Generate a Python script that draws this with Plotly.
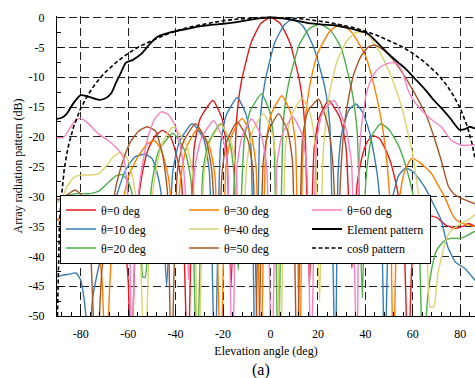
import plotly.graph_objects as go

# ---------------- data ----------------
x_tick_vals = [-80, -60, -40, -20, 0, 20, 40, 60, 80]
x_tick_text = ["-80", "-60", "-40", "-20", "0", "20", "40", "60", "80"]
y_tick_vals = [0, -5, -10, -15, -20, -25, -30, -35, -40, -45, -50]
y_tick_text = ["0", "-5", "-10", "-15", "-20", "-25", "-30", "-35", "-40", "-45", "-50"]

t0_ang = [-90, -86, -83, -80, -76, -72, -68, -65, -62, -60, -58.8,
          -56.5, -54, -51.5, -48.5, -45.5, -42.5, -40, -37.5, -34.85,
          -32.2, -29.6, -24.3, -20.45, -18.5, -16.6,
          -14.4, -12.4, -8.25, -4.1, 0, 4.1, 8.25, 12.4, 14.4, 16.4,
          18.4, 20.45, 24.5, 29.4, 31.85, 34.3,
          36.5, 38.5, 40.5, 43, 46, 50, 53, 56, 58,
          59.5, 61, 63.5, 67, 70, 74, 78, 81, 83.5, 86.2]
t0_db = [-34, -32.5, -30.8, -30, -30.5, -31.5, -32.5, -33, -36, -44, -60,
         -33, -26, -22, -19.8, -18.9, -19.8, -22.5, -27.5, -60,
         -21.9, -16.9, -13.9, -16.9, -21.9, -45,
         -17.7, -11, -4.3, -1.0, 0, -1.0, -4.3, -11, -17.7, -45,
         -21.9, -16.9, -13.9, -16.9, -21.9, -42,
         -28, -23.5, -21, -19.8, -20.3, -23.5, -28, -35, -60,
         -42, -37, -34, -33.2, -33.5, -34.8, -35.3, -35.0, -34.5, -35]

t10_ang = [-90, -88, -85, -82, -80, -79, -77.8, -77,
           -75, -72, -69, -65, -61, -57, -53, -50, -47.5, -45.5, -43.8,
           -41.2, -38.4, -33, -28.2, -25.8, -23.4,
           -21.05, -18.7, -14, -10.2, -8.3, -6.44,
           -4.4, -2.3, 1.8, 5.9, 9.5, 13.8, 18.2, 22.8, 25.0, 27.3,
           28.5, 30, 33, 36, 39, 42, 45, 46.8, 48.2,
           49.5, 51, 54, 57, 60, 65, 69, 72, 74.7, 78, 81.8, 86.2]
t10_db = [-43.5, -43.2, -43.0, -42.8, -44, -46, -50, -60,
          -47, -41, -36, -30, -25.5, -23.3, -22.9, -23.6, -26.5, -31.5, -45,
          -25.8, -20.8, -17.8, -20.3, -25.8, -60,
          -21.4, -16.4, -13.4, -16.4, -21.4, -60,
          -17.2, -10.7, -4.2, -1.2, -0.25, -1.5, -5.0, -11.5, -18.0, -60,
          -26, -19.5, -15.5, -14.5, -16.0, -19.6, -26.3, -35, -60,
          -38, -31, -26.5, -25.2, -25.8, -28.4, -31.5, -34, -38.4, -41, -42, -44]

t20_ang = [-90, -87, -82, -76, -72, -68, -65, -62.5, -60, -58, -56, -54.5, -53.8, -52.8,
           -50.25, -47.2, -41.1, -36.05, -33.5, -31,
           -28.5, -26, -21, -17.3, -15.45, -13.6,
           -11.15, -8.7, -3.8, -0.3, 1.45, 3.2,
           5.4, 7.65, 12.1, 16.5, 21, 25.4, 29.85, 34.3, 36.5, 38.7,
           39.8, 41, 43, 46.5, 50, 54, 57.5, 60.5, 62.5, 64.3,
           66, 68, 70, 73, 76, 80, 83, 86.2]
t20_db = [-31, -30, -29.5, -29.5, -29, -27.5, -26.5, -26.3, -27.5, -30, -34, -40, -43.5, -43.5,
          -28.5, -22.4, -19.4, -22.4, -27.4, -60,
          -25.8, -20.8, -17.8, -20.8, -25.8, -42.3,
          -20.8, -15.8, -12.8, -15.8, -20.8, -60,
          -17.5, -11, -4.6, -1.8, -1.15, -2.2, -5.2, -12.3, -19, -47,
          -30, -24, -19.6, -17.8, -18.8, -21.5, -25.5, -30.5, -36, -60,
          -48, -42, -39, -37.5, -37, -37, -36.5, -35.8]

t30_ang = [-90, -86, -82, -79, -76, -73, -71, -69.5,
           -67, -64, -60, -56, -52, -49, -46, -43, -41.5, -40.3,
           -37.8, -35.3, -30.5, -25.75, -23.4, -21,
           -18.75, -16.5, -12, -8.05, -6.1, -4.1,
           -1.9, 0.35, 4.8, 8.6, 10.5, 12.4,
           13.5, 15, 17, 20, 25, 28.5, 32, 35, 40, 44, 47, 49, 50.5, 51.8,
           53, 54.5, 56.5, 59.5, 63, 67.8, 70.5, 73.4, 76, 78, 81, 86.2]
t30_db = [-34, -32.8, -31.8, -32.5, -34.5, -38.5, -44, -60,
          -40, -34.5, -26.8, -23.4, -21.2, -20.6, -22.2, -26.9, -33, -40,
          -26.6, -21.6, -18.6, -21.6, -26.6, -60,
          -24.9, -19.9, -16.9, -19.9, -24.9, -60,
          -21.1, -16.1, -13.1, -16.1, -21.1, -60,
          -24, -15.7, -10.5, -5.9, -2.3, -1.3, -1.7, -2.9, -6.4, -12.0, -17.9, -24, -32, -60,
          -38, -30, -25.8, -23.6, -24.3, -26.1, -28, -30, -32.5, -33.8, -34.5, -35]

t40_ang = [-90, -88, -86, -83, -80, -76, -72.5, -69, -66, -63, -60.5, -58.5, -56.5, -55, -53,
           -50.5, -48, -45.5, -41, -35.5, -32.75, -30.4,
           -28, -25.65, -20.9, -16.55, -14.4, -12.2,
           -9.9, -7.6, -3, 0.55, 2.3, 4.1,
           6.4, 8.7, 13.3, 17, 18.85, 20.7,
           22, 23, 25, 28, 32, 36, 40, 44, 48, 52, 56, 58, 60, 62, 64, 66, 67.3, 68.8,
           70.6, 72, 73.4, 75.5, 77.6, 80, 83, 86.2]
t40_db = [-31, -30.5, -28.5, -26.8, -26.4, -26.4, -26.2, -24.8, -23.2, -22.6, -23.5, -26, -31, -38, -60,
          -32, -25, -21, -18.3, -21.3, -26.3, -60,
          -26, -21, -18, -21, -26, -40,
          -24.1, -19.1, -16.1, -19.1, -24.1, -60,
          -21.5, -16.5, -13.5, -16.5, -21.5, -47.6,
          -24.5, -18.7, -12.4, -7.4, -4.0, -2.5, -2.5, -4.5, -7.3, -11, -16, -19.5, -23, -28.5, -33, -40, -48.5, -48.5,
          -42.8, -40.3, -38, -36, -35.2, -34.6, -34, -33]

t50_ang = [-90, -88, -85, -82.4, -80, -78, -76, -73.5,
           -71, -68, -65, -62, -59, -55.5, -52, -48.5, -45.5, -43.5, -41.8,
           -39.25, -36.7, -31.6, -27, -24.7, -22.4,
           -20.3, -18.2, -14, -9.6, -7.4, -5.2,
           -3.05, -0.9, 3.4, 7.3, 9.25, 11.2,
           13.5, 15.75, 20.3, 24.25, 26.2, 28.2,
           29.5, 31, 33, 35, 38, 41, 43.5, 46, 50, 54, 58, 62, 65, 68.5, 72, 75, 77.5, 80, 83, 86.2]
t50_db = [-30.5, -30.3, -29.5, -28.9, -29.6, -32, -38, -60,
          -42, -35, -28, -23.8, -20.8, -19, -18.3, -19, -23, -29, -60,
          -25.8, -20.8, -17.8, -20.8, -25.8, -41.2,
          -25.5, -20.5, -17.5, -20.5, -25.5, -60,
          -24.1, -19.1, -16.1, -19.1, -24.1, -60,
          -20.2, -15.7, -13.7, -18.2, -24, -40,
          -27, -18.5, -13.3, -9.6, -6.6, -5.0, -4.6, -5.0, -6.3, -8.3, -10.8, -13.6, -15.8, -19.5, -24, -28.3, -29.6, -30.2, -30.7, -31.2]

t60_ang = [-90, -87, -84.5, -82, -80, -77, -72.5, -68.5, -64.5, -62, -60.5, -59.3, -58.5,
           -57, -55, -52, -49, -46, -43, -40, -37, -35.5, -34.5,
           -31.9, -29.25, -24, -20.05, -18.1, -16.1,
           -14.1, -12.05, -8, -3.75, -1.6, 0.5,
           2.7, 4.95, 9.4, 13.25, 15.2, 17.1,
           19.5, 21.95, 26.8, 31.65, 34.1, 36.5,
           37.3, 38.3, 40.4, 42.5, 44.6, 47.5, 50.5, 53, 55.5, 58, 61, 65, 68.5, 72, 76.2, 80.4, 83, 86.2]
t60_db = [-20.2, -20, -18.5, -17.2, -16.9, -17.7, -19.5, -20.6, -22, -23.5, -28, -38, -60,
          -36, -27.3, -20.5, -17.1, -15.8, -16.3, -18.3, -23.9, -32, -44,
          -25.3, -20.3, -17.3, -20.3, -25.3, -60,
          -25, -20, -17, -20, -25, -60,
          -24.6, -19.6, -16.6, -19.6, -24.6, -60,
          -20.4, -15.9, -13.9, -18.4, -24.2, -60,
          -25, -18.5, -12.7, -10.3, -8.9, -8.0, -7.6, -7.6, -9, -12.2, -14.3, -16.1, -17.3, -18.3, -20.6, -21.4, -21.4, -21.3]

elem_ang = [-90, -88, -86, -83, -80, -76.5, -72, -69, -67, -65, -63, -61, -58, -54.5, -51, -47.5,
            -44, -40, -35, -30, -25, -20, -15, -10, -5, 0, 5, 9, 13, 17, 22, 27, 33, 37, 40,
            42, 44, 47, 50, 54, 57, 61, 65, 69, 73, 76, 79.7, 82, 84, 86.2]
elem_db = [-17.0, -16.8, -16.2, -14.3, -13.0, -13.3, -13.8, -13.4, -12.6, -10.8, -9.2, -7.6, -7.1, -6.1, -4.5, -3.2,
           -2.7, -2.3, -1.9, -1.5, -1.25, -1.05, -0.8, -0.5, -0.15, 0, -0.15, -0.4, -0.7, -1.0, -1.2, -1.3, -1.8, -2.2, -2.5,
           -3.0, -3.8, -5.0, -6.2, -7.6, -8.6, -10.3, -12.0, -13.9, -15.6, -17.0, -18.8, -18.7, -18.3, -18.6]

cos_ang = [-89.8, -89.5, -89, -88.5, -88, -87, -86, -85, -83, -80, -77, -74, -70, -65, -60, -55, -50,
           -45, -40, -35, -30, -25, -20, -15, -10, -5, 0, 5, 10, 15, 20, 25, 30, 35, 40, 45, 50,
           55, 60, 65, 70, 74, 77, 80, 83, 85, 86.2]
cos_db = [-50, -41.2, -35.2, -31.6, -29.1, -25.6, -23.1, -21.2, -18.3, -15.2, -13.0, -11.2, -9.3, -7.5, -6.0, -4.8, -3.9,
          -3.0, -2.3, -1.7, -1.25, -0.85, -0.54, -0.3, -0.13, -0.03, 0, -0.03, -0.13, -0.3, -0.54, -0.85, -1.25, -1.7, -2.3, -3.0, -3.9,
          -4.8, -6.0, -7.5, -9.3, -11.2, -13.0, -15.2, -18.3, -21.2, -23.6]

# ---------------- styling ----------------
SERIF = "Liberation Serif, Times New Roman, serif"
beams = [
    ("θ=0 deg", t0_ang, t0_db, "#e41a1c", 1),
    ("θ=10 deg", t10_ang, t10_db, "#377eb8", 4),
    ("θ=20 deg", t20_ang, t20_db, "#4daf4a", 7),
    ("θ=30 deg", t30_ang, t30_db, "#ff7f00", 2),
    ("θ=40 deg", t40_ang, t40_db, "#dbd36e", 5),
    ("θ=50 deg", t50_ang, t50_db, "#a65628", 8),
    ("θ=60 deg", t60_ang, t60_db, "#f781bf", 3),
]

fig = go.Figure()
for name, xa, ya, col, rank in beams:
    fig.add_trace(go.Scatter(x=xa, y=ya, mode="lines", name=name, legendrank=rank,
                             line=dict(color=col, width=1.4, shape="spline", smoothing=0.5)))
fig.add_trace(go.Scatter(x=elem_ang, y=elem_db, mode="lines", name="Element pattern", legendrank=6,
                         line=dict(color="black", width=1.8, shape="spline", smoothing=0.6)))
fig.add_trace(go.Scatter(x=cos_ang, y=cos_db, mode="lines", name="cosθ pattern", legendrank=9,
                         line=dict(color="black", width=1.6, dash="4px,2.5px")))

fig.update_layout(
    width=475, height=378,
    margin=dict(l=57, r=0, t=15.5, b=62, autoexpand=False),
    paper_bgcolor="white", plot_bgcolor="white",
    font=dict(family=SERIF, size=12, color="black"),
    showlegend=True,
    legend=dict(orientation="h", x=0.0072, y=0.405, xanchor="left", yanchor="top",
                bgcolor="white", bordercolor="black", borderwidth=1,
                font=dict(family=SERIF, size=12, color="black"),
                entrywidth=78, entrywidthmode="pixels", traceorder="normal"),
    annotations=[dict(text="(a)", x=0.488, y=-0.18, xref="paper", yref="paper",
                      showarrow=False, xanchor="center", yanchor="middle",
                      font=dict(family=SERIF, size=16, color="black"))],
)
fig.update_xaxes(range=[-90, 86.2], tickvals=x_tick_vals, ticktext=x_tick_text, automargin=False,
                 ticks="inside", ticklen=6, tickcolor="black", ticklabelstandoff=6,
                 showline=True, linecolor="black", linewidth=1.3, mirror=False,
                 showgrid=True, gridcolor="#222222", gridwidth=1, griddash="8px,4px",
                 zeroline=False,
                 minor=dict(ticks="inside", ticklen=3.5, tickcolor="black", dtick=4, tick0=0, showgrid=False),
                 title=dict(text="Elevation angle (deg)", standoff=7,
                            font=dict(family=SERIF, size=12, color="black")),
                 tickfont=dict(family=SERIF, size=12, color="black"))
fig.update_yaxes(range=[-50, 0.25], tickvals=y_tick_vals, ticktext=y_tick_text, automargin=False,
                 ticks="inside", ticklen=6, tickcolor="black", ticklabelstandoff=9,
                 showline=True, linecolor="black", linewidth=1.3, mirror=False,
                 showgrid=True, gridcolor="#222222", gridwidth=1, griddash="8px,4px",
                 zeroline=False,
                 minor=dict(ticks="inside", ticklen=3.5, tickcolor="black", dtick=2.5, tick0=0, showgrid=False),
                 title=dict(text="Array radiation pattern (dB)", standoff=3,
                            font=dict(family=SERIF, size=12, color="black")),
                 tickfont=dict(family=SERIF, size=12, color="black"))

fig.write_html("out.html", config={"displayModeBar": False},
               post_script="document.body.style.margin='0px';document.body.style.overflow='hidden';")
